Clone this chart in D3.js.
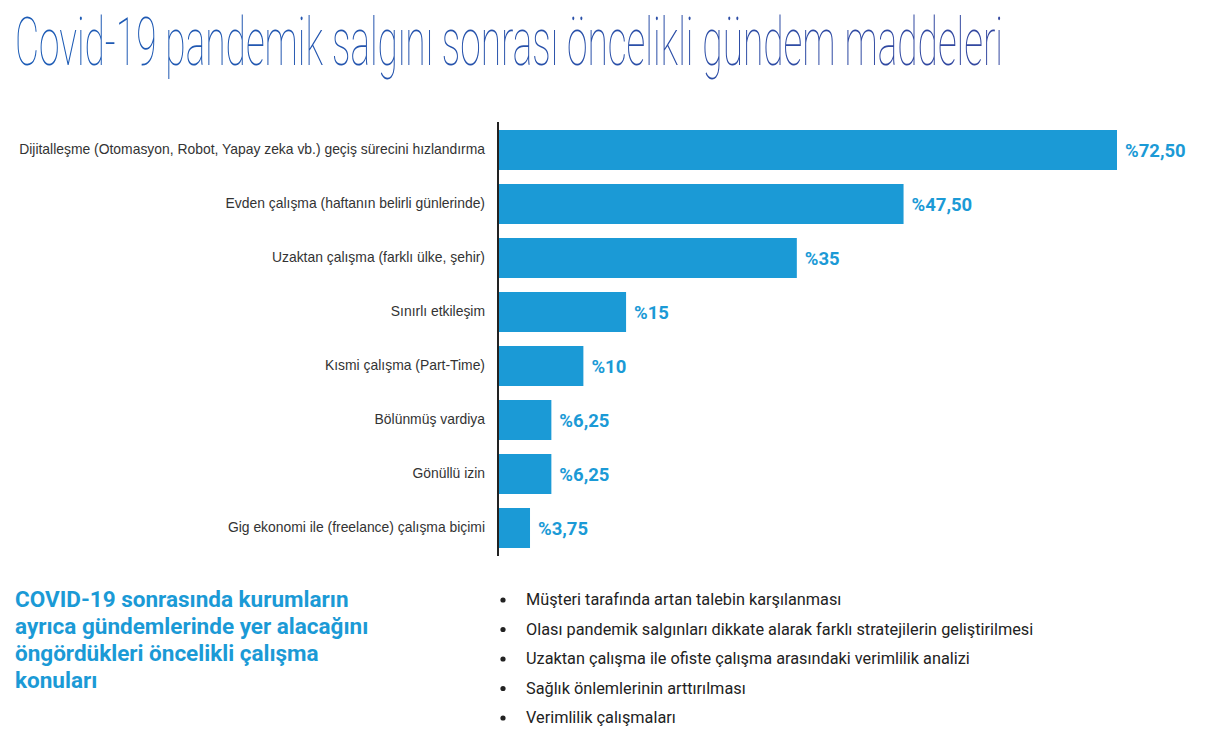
<!DOCTYPE html>
<html>
<head>
<meta charset="utf-8">
<script src="https://cdn.jsdelivr.net/npm/d3@7"></script>
<style>
  body { margin: 0; background: #fff; }
  svg { display: block; }
</style>
</head>
<body>
<div id="chart"></div>
<script>
const categories = [
  "Dijitalleşme (Otomasyon, Robot, Yapay zeka vb.) geçiş sürecini hızlandırma",
  "Evden çalışma (haftanın belirli günlerinde)",
  "Uzaktan çalışma (farklı ülke, şehir)",
  "Sınırlı etkileşim",
  "Kısmi çalışma (Part-Time)",
  "Bölünmüş vardiya",
  "Gönüllü izin",
  "Gig ekonomi ile (freelance) çalışma biçimi"
];
const values = [72.5, 47.5, 35, 15, 10, 6.25, 6.25, 3.75];
const valueLabels = ["%72,50", "%47,50", "%35", "%15", "%10", "%6,25", "%6,25", "%3,75"];
const noteLines = [
  "COVID-19 sonrasında kurumların",
  "ayrıca gündemlerinde yer alacağını",
  "öngördükleri öncelikli çalışma",
  "konuları"
];
const bullets = [
  "Müşteri tarafında artan talebin karşılanması",
  "Olası pandemik salgınları dikkate alarak farklı stratejilerin geliştirilmesi",
  "Uzaktan çalışma ile ofiste çalışma arasındaki verimlilik analizi",
  "Sağlık önlemlerinin arttırılması",
  "Verimlilik çalışmaları"
];

const W = 1222, H = 747;
const svg = d3.select("#chart").append("svg")
    .attr("width", W)
    .attr("height", H);

// title gradient
const defs = svg.append("defs");
const grad = defs.append("linearGradient").attr("id", "tg")
    .attr("x1", "0").attr("x2", "1").attr("y1", "0").attr("y2", "0");
grad.append("stop").attr("offset", "0%").attr("stop-color", "#1c5cb6");
grad.append("stop").attr("offset", "100%").attr("stop-color", "#33479f");

svg.append("text")
    .attr("x", 15)
    .attr("y", 65)
    .attr("font-family", "Roboto, sans-serif")
    .attr("font-weight", 100)
    .attr("font-size", 66)
    .attr("fill", "url(#tg)")
    .attr("textLength", 988)
    .attr("lengthAdjust", "spacingAndGlyphs")
    .text("Covid-19 pandemik salgını sonrası öncelikli gündem maddeleri");

// bar chart
const x0 = 498;
const x = d3.scaleLinear().domain([0, 72.5]).range([x0, 1117]);
const y = d3.scaleBand().domain(categories).range([130 - 7, 548 + 7]).paddingInner(14 / 54).paddingOuter(7 / 54);

const g = svg.append("g");

g.selectAll("rect.bar")
  .data(values)
  .join("rect")
    .attr("class", "bar")
    .attr("x", x(0))
    .attr("y", (d, i) => y(categories[i]))
    .attr("width", d => x(d) - x(0))
    .attr("height", y.bandwidth())
    .attr("fill", "#1b9ad6");

g.selectAll("text.val")
  .data(values)
  .join("text")
    .attr("class", "val")
    .attr("x", d => x(d) + 8)
    .attr("y", (d, i) => y(categories[i]) + y.bandwidth() / 2)
    .attr("dy", "0.36em")
    .attr("font-family", "Roboto, sans-serif")
    .attr("font-weight", 700)
    .attr("font-size", 18.5)
    .attr("fill", "#1b9ad6")
    .text((d, i) => valueLabels[i]);

const yAxis = g.append("g")
    .attr("transform", "translate(" + x0 + ",0)")
    .call(d3.axisLeft(y).tickSize(0).tickPadding(13));
yAxis.select(".domain")
    .attr("d", "M0,122V556")
    .attr("stroke", "#222")
    .attr("stroke-width", 2);
yAxis.selectAll("text")
    .attr("font-family", "'Liberation Sans', Arial, sans-serif")
    .attr("font-size", 13.9)
    .attr("fill", "#333");

// note on the left
svg.append("g").selectAll("text")
  .data(noteLines)
  .join("text")
    .attr("x", 15)
    .attr("y", (d, i) => 607 + i * 27)
    .attr("font-family", "Roboto, sans-serif")
    .attr("font-weight", 700)
    .attr("font-size", 22.5)
    .attr("fill", "#1b9ad6")
    .text(d => d);

// bullet list
const bl = svg.append("g").selectAll("g")
  .data(bullets)
  .join("g")
    .attr("transform", (d, i) => "translate(0," + (605 + i * 29.5) + ")");
bl.append("circle")
    .attr("cx", 503)
    .attr("cy", -5)
    .attr("r", 2.6)
    .attr("fill", "#222");
bl.append("text")
    .attr("x", 526)
    .attr("font-family", "Roboto, sans-serif")
    .attr("font-size", 16.3)
    .attr("fill", "#222")
    .text(d => d);
</script>
</body>
</html>
